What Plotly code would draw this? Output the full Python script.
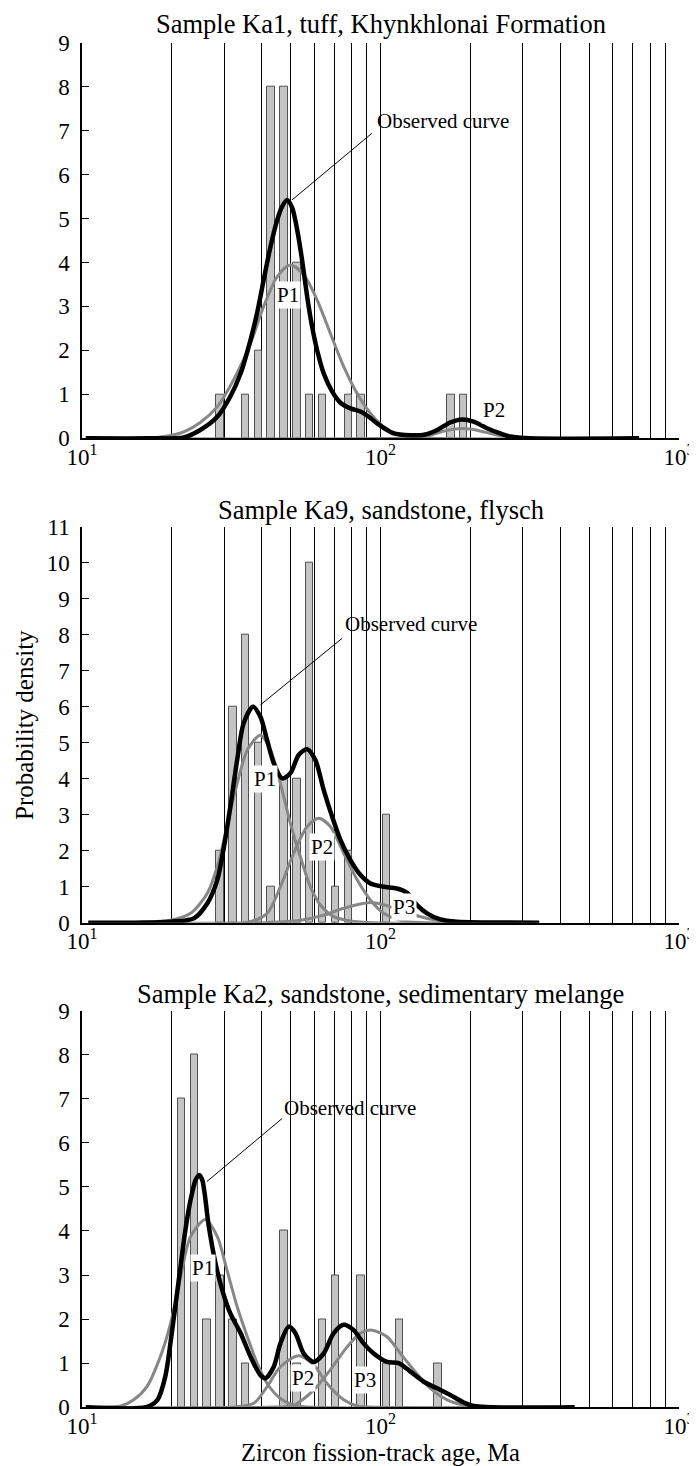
import numpy as np
import plotly.graph_objects as go
from plotly.subplots import make_subplots

# ------------------------------------------------------------------ data
panel_titles = [
    "Sample Ka1, tuff, Khynkhlonai Formation",
    "Sample Ka9, sandstone, flysch",
    "Sample Ka2, sandstone, sedimentary melange",
]
y_max = [9, 11, 9]

# labelled decades and the vertical grid lines of the age axis (Ma)
decade_ages = [10, 100, 1000]
decade_labels = ["10<sup>1</sup>", "10<sup>2</sup>", "10<sup>3</sup>"]
grid_ages = [20, 30, 40, 50, 60, 70, 80, 90, 100,
             200, 300, 400, 500, 600, 700, 800, 900, 1000]

# histograms (bin centre age in Ma, number of grains)
ka1_bar_age = [29.0, 35.3, 39.0, 43.0, 47.5, 52.5, 57.9, 64.0, 78.0, 86.1, 172.1, 190.0]
ka1_bar_n = [1, 1, 2, 8, 8, 4, 1, 1, 1, 1, 1, 1]

ka9_bar_age = [29.0, 32.0, 35.3, 39.0, 43.0, 47.5, 52.5, 57.9, 64.0, 70.6, 78.0, 104.9]
ka9_bar_n = [2, 6, 8, 5, 1, 4, 4, 10, 2, 1, 2, 3]

ka2_bar_age = [21.5, 23.8, 26.2, 29.0, 32.0, 35.3, 47.5, 52.5, 64.0, 70.6, 86.1, 104.9, 115.8, 155.9]
ka2_bar_n = [7, 8, 2, 3, 2, 1, 4, 1, 2, 3, 3, 1, 2, 1]

# observed probability-density curves
ka1_obs_age = [10.3, 17.0, 21.9, 24.9, 28.4, 31.4, 34.0, 36.7, 38.6, 40.6, 42.8, 45.1, 46.8,
               48.7, 50.6, 52.6, 54.6, 56.8, 59.0, 61.3, 64.5, 68.9, 73.4, 79.3, 85.6, 91.3,
               97.4, 105.2, 110.0, 126.0, 140.0, 155.0, 171.0, 187.5, 205.0, 227.5, 252.0,
               272.0, 316.0, 735.0]
ka1_obs_pd = [0, 0, 0.02, 0.19, 0.49, 0.95, 1.48, 2.24, 2.85, 3.60, 4.36, 4.97, 5.27,
              5.42, 5.24, 4.74, 4.06, 3.22, 2.54, 2.01, 1.48, 1.06, 0.81, 0.68, 0.61, 0.49,
              0.34, 0.19, 0.12, 0.07, 0.08, 0.19, 0.36, 0.43, 0.38, 0.23, 0.11,
              0.04, 0.0, 0.0]

ka9_obs_age = [10.5, 19.8, 23.7, 26.3, 28.4, 29.9, 31.4, 33.1, 34.8, 37.4, 39.6, 41.7, 43.9,
               46.8, 49.9, 53.2, 56.8, 60.5, 64.5, 68.9, 73.4, 79.3, 85.6, 92.5, 102.5, 113.6,
               122.7, 132.6, 143.2, 158.7, 180.6, 340.0]
ka9_obs_pd = [0, 0.03, 0.12, 0.54, 1.19, 2.11, 3.22, 4.52, 5.54, 6.0, 5.72, 5.07, 4.43,
              4.01, 4.15, 4.66, 4.82, 4.52, 3.69, 2.94, 2.30, 1.74, 1.33, 1.09, 1.0, 0.95,
              0.83, 0.49, 0.26, 0.09, 0.03, 0]

ka2_obs_age = [10.3, 16.5, 17.9, 19.0, 20.05, 21.1, 22.2, 23.1, 24.0, 24.7, 25.3, 26.6, 28.0,
               29.5, 31.4, 34.0, 36.7, 39.6, 41.2, 43.9, 46.2, 49.3, 51.9, 55.3, 59.7, 64.5,
               69.7, 75.3, 81.3, 87.8, 94.9, 105.2, 115.1, 125.9, 139.5, 154.8, 171.4, 190.0,
               205.1, 447.0]
ka2_obs_pd = [0, 0.01, 0.17, 0.69, 1.75, 2.89, 4.02, 4.7, 5.15, 5.27, 5.15, 4.1, 3.27,
              2.66, 2.13, 1.68, 1.15, 0.73, 0.66, 0.92, 1.45, 1.83, 1.68, 1.22, 1.03, 1.22,
              1.68, 1.87, 1.75, 1.45, 1.22, 1.03, 1.0, 0.81, 0.58, 0.43, 0.28, 0.11,
              0.03, 0]

# fitted peak components
ka1_p1_age = [10.3, 17.8, 21.4, 24.9, 28.4, 32.2, 36.7, 40.6, 45.1, 49.9, 55.3, 61.3, 67.9,
              75.3, 83.5, 92.5, 102.5, 116.6, 135.0, 735.0]
ka1_p1_pd = [0, 0.02, 0.12, 0.36, 0.72, 1.33, 2.16, 3.0, 3.68, 3.94, 3.72, 3.15, 2.39,
             1.63, 1.02, 0.57, 0.26, 0.07, 0.01, 0]
ka1_p2_age = [10.3, 126.0, 145.0, 162.0, 182.0, 200.0, 224.0, 251.0, 288.0, 735.0]
ka1_p2_pd = [0, 0.01, 0.06, 0.16, 0.22, 0.21, 0.14, 0.06, 0.01, 0]

ka9_p1_age = [10.5, 19.8, 23.1, 26.3, 28.4, 30.6, 33.1, 35.8, 39.6, 42.8, 46.2, 49.9, 53.9,
              58.2, 62.9, 69.7, 79.3, 95.5, 340.0]
ka9_p1_pd = [0, 0.07, 0.26, 0.82, 1.56, 2.67, 3.87, 4.8, 5.21, 4.8, 3.87, 2.76, 1.83,
             1.0, 0.49, 0.17, 0.05, 0, 0]
ka9_p2_age = [10.5, 35.5, 41.7, 46.2, 51.2, 56.8, 62.1, 67.9, 75.3, 83.5, 92.5, 102.5,
              117.5, 141.0, 340.0]
ka9_p2_pd = [0, 0, 0.26, 1.0, 1.93, 2.67, 2.9, 2.67, 1.93, 1.19, 0.63, 0.26,
             0.06, 0, 0]
ka9_p3_age = [10.5, 39.8, 54.0, 64.6, 75.3, 92.5, 102.3, 114.8, 131.8, 151.4, 177.8, 209.0, 340.0]
ka9_p3_pd = [0, 0, 0.07, 0.21, 0.40, 0.56, 0.50, 0.37, 0.20, 0.08, 0.02, 0, 0]

ka2_p1_age = [10.3, 13.5, 14.9, 16.5, 18.3, 19.8, 21.4, 23.1, 25.9, 28.4, 30.6, 33.1, 35.8,
              38.6, 41.7, 46.2, 51.2, 60.3, 447.0]
ka2_p1_pd = [0, 0.03, 0.17, 0.47, 1.15, 1.9, 2.96, 3.87, 4.26, 3.87, 3.11, 2.28, 1.6,
             1.0, 0.54, 0.2, 0.05, 0, 0]
ka2_p2_age = [10.3, 31.6, 37.6, 41.7, 46.2, 53.2, 59.7, 66.2, 75.3, 83.5, 100.0, 447.0]
ka2_p2_pd = [0, 0, 0.09, 0.47, 0.92, 1.17, 0.96, 0.54, 0.17, 0.03, 0, 0]
ka2_p3_age = [10.3, 41.7, 51.2, 59.7, 67.9, 77.3, 85.6, 93.7, 105.2, 116.6, 129.1, 146.9,
              167.1, 190.0, 224.0, 447.0]
ka2_p3_pd = [0, 0, 0.05, 0.39, 0.85, 1.37, 1.68, 1.75, 1.6, 1.22, 0.85, 0.43,
             0.17, 0.05, 0, 0]

# label positions (age, density)
obs_text_pos = [(162.2, 7.21), (126.4, 8.29), (79.3, 6.80)]
obs_leader_from = [(93.6, 6.94), (74.4, 7.90), (46.8, 6.55)]
obs_leader_to = [(50.5, 5.42), (39.6, 6.05), (26.2, 5.12)]
peak_labels = [
    [("P1", 49.0, 3.25), ("P2", 239.9, 0.64)],
    [("P1", 40.9, 3.99), ("P2", 63.5, 2.11), ("P3", 120.0, 0.44)],
    [("P1", 25.4, 3.15), ("P2", 54.8, 0.66), ("P3", 89.0, 0.63)],
]

panels = [
    dict(bars=(ka1_bar_age, ka1_bar_n), obs=(ka1_obs_age, ka1_obs_pd),
         comps=[(ka1_p1_age, ka1_p1_pd), (ka1_p2_age, ka1_p2_pd)]),
    dict(bars=(ka9_bar_age, ka9_bar_n), obs=(ka9_obs_age, ka9_obs_pd),
         comps=[(ka9_p1_age, ka9_p1_pd), (ka9_p2_age, ka9_p2_pd), (ka9_p3_age, ka9_p3_pd)]),
    dict(bars=(ka2_bar_age, ka2_bar_n), obs=(ka2_obs_age, ka2_obs_pd),
         comps=[(ka2_p1_age, ka2_p1_pd), (ka2_p2_age, ka2_p2_pd), (ka2_p3_age, ka2_p3_pd)]),
]

# ------------------------------------------------------------------ style
# the page body has an 8 px margin, so the figure is drawn 8 px smaller
# and every position below is given in page pixels and shifted by OFF
OFF = 8
W, H = 697 - OFF, 1466 - OFF
ML = 82 - OFF
MR = W - (679 - OFF)
FONT = "Liberation Serif, Times New Roman, serif"
BAR_HALF = 0.0125          # half bar width in decades
BAR_FILL = "#c4c4c4"
BAR_EDGE = "#505050"
COMP_COLOR = "#878787"
# vertical extent (page px from top) of each panel's plotting area
panel_px = [(42.7, 438.3), (526.7, 922.7), (1010.5, 1407.3)]
title_px = [24, 510, 994]
xtitle_px = 1452
ytitle_px = (24, 725)

def py(v):
    """page-pixel row -> paper fraction"""
    return 1 - (v - OFF) / H

fig = make_subplots(rows=3, cols=1)

for i, p in enumerate(panels):
    r = i + 1
    ages = np.asarray(p["bars"][0], float)
    lo = ages * 10 ** (-BAR_HALF)
    hi = ages * 10 ** BAR_HALF
    fig.add_trace(go.Bar(x=(lo + hi) / 2, y=p["bars"][1], width=hi - lo,
                         marker=dict(color=BAR_FILL, line=dict(color=BAR_EDGE, width=1)),
                         showlegend=False, hoverinfo="skip"), row=r, col=1)
    for ca, cp in p["comps"]:
        fig.add_trace(go.Scatter(x=ca, y=cp, mode="lines",
                                 line=dict(color=COMP_COLOR, width=3, shape="spline", smoothing=0.8),
                                 showlegend=False, hoverinfo="skip"), row=r, col=1)
    fig.add_trace(go.Scatter(x=p["obs"][0], y=p["obs"][1], mode="lines",
                             line=dict(color="black", width=4.5, shape="spline", smoothing=0.8),
                             showlegend=False, hoverinfo="skip"), row=r, col=1)
    # leader line for the "Observed curve" label
    (xa, ya), (xb, yb) = obs_leader_from[i], obs_leader_to[i]
    fig.add_trace(go.Scatter(x=[xa, xb], y=[ya, yb], mode="lines",
                             line=dict(color="black", width=1),
                             showlegend=False, hoverinfo="skip"), row=r, col=1)

    xname = "x" if r == 1 else f"x{r}"
    yname = "y" if r == 1 else f"y{r}"
    tx, ty = obs_text_pos[i]
    fig.add_annotation(x=np.log10(tx), y=ty, xref=xname, yref=yname, text="Observed curve",
                       showarrow=False, font=dict(family=FONT, size=21, color="black"))
    for lab, lx, ly in peak_labels[i]:
        fig.add_annotation(x=np.log10(lx), y=ly, xref=xname, yref=yname, text=lab,
                           showarrow=False, bgcolor="white", borderpad=1,
                           font=dict(family=FONT, size=21, color="black"))
    # panel title
    fig.add_annotation(x=0.5, y=py(title_px[i]), xref="paper", yref="paper",
                       text=panel_titles[i], showarrow=False, xanchor="center", yanchor="middle",
                       font=dict(family=FONT, size=26.5, color="black"))

    top, bot = panel_px[i]
    fig.update_xaxes(type="log", range=[1, 3], tickmode="array", tickvals=decade_ages,
                     ticktext=decade_labels,
                     showgrid=True, gridcolor="black", gridwidth=1,
                     minor=dict(tickmode="array", tickvals=grid_ages, showgrid=True,
                                gridcolor="black", gridwidth=1, ticks=""),
                     showline=True, linecolor="black", linewidth=1.5, ticks="",
                     zeroline=False, automargin=False,
                     tickfont=dict(family=FONT, size=23, color="black"),
                     ticklabelstandoff=-3, row=r, col=1)
    fig.update_yaxes(range=[0, y_max[i]], tickmode="linear", tick0=0, dtick=1,
                     ticks="inside", ticklen=7, tickwidth=1.2, tickcolor="black",
                     showline=True, linecolor="black", linewidth=1.5,
                     showgrid=False, zeroline=False, automargin=False,
                     tickfont=dict(family=FONT, size=23, color="black"),
                     ticklabelstandoff=6,
                     domain=[py(bot), py(top)], row=r, col=1)

# axis titles
fig.add_annotation(x=0.5, y=py(xtitle_px), xref="paper", yref="paper",
                   text="Zircon fission-track age, Ma", showarrow=False,
                   xanchor="center", yanchor="middle",
                   font=dict(family=FONT, size=24.5, color="black"))
fig.add_annotation(x=(ytitle_px[0] - 82) / (W - ML - MR), y=py(ytitle_px[1]),
                   xref="paper", yref="paper",
                   text="Probability density", showarrow=False, textangle=-90,
                   xanchor="center", yanchor="middle",
                   font=dict(family=FONT, size=25, color="black"))

fig.update_layout(width=W, height=H, margin=dict(l=ML, r=MR, t=0, b=0, autoexpand=False),
                  paper_bgcolor="white", plot_bgcolor="white",
                  barmode="overlay", bargap=0, showlegend=False,
                  font=dict(family=FONT, color="black"))

fig.write_html("out.html")
